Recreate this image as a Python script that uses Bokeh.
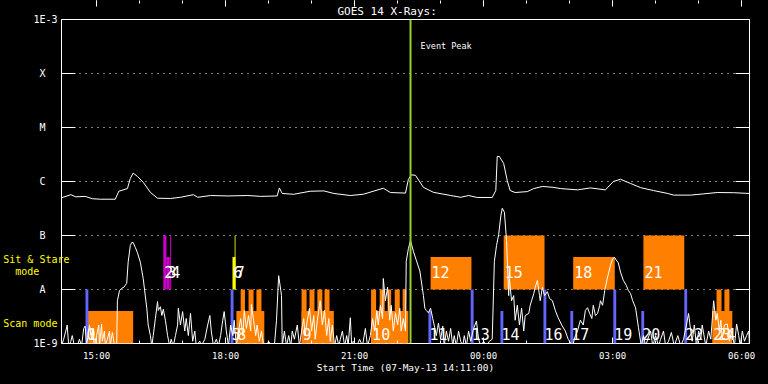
from bokeh.plotting import figure
from bokeh.models import (Range1d, LinearAxis, LogAxis, FixedTicker, Label, Span, Title,
                          ColumnDataSource, GlobalInlineStyleSheet)
from bokeh.embed import file_html
from bokeh.resources import INLINE
from bokeh.core.properties import value

# ---------------- data (time = minutes after 07-May-13 14:11:00) ----------------
TITLE = "GOES 14 X-Rays:"
XLABEL = "Start Time (07-May-13 14:11:00)"
tick_minutes = [49, 229, 409, 589, 769, 949]
tick_labels = ["15:00", "18:00", "21:00", "00:00", "03:00", "06:00"]
hour_minutes = [49, 109, 169, 229, 289, 349, 409, 469, 529, 589, 649, 709, 769, 829, 889, 949]
flux_levels = [1e-9, 1e-8, 1e-7, 1e-6, 1e-5, 1e-4, 1e-3]
level_labels = ["1E-9", "A", "B", "C", "M", "X", "1E-3"]
mode_levels = [3.6e-8, 2.15e-8, 2.35e-9]
mode_labels = ["Sit & Stare", "mode", "Scan mode"]

# GOES long channel (1-8 A), W/m^2
goes_long = [(0, 5.0e-7), (13, 5.7e-7), (20, 5.2e-7), (33, 5.3e-7), (43, 4.8e-7), (54, 4.7e-7),
             (75, 4.7e-7), (80, 6.6e-7), (92, 7.4e-7), (96, 1.14e-6), (100, 1.43e-6), (106, 1.24e-6),
             (114, 9.7e-7), (124, 6.3e-7), (134, 4.9e-7), (152, 4.85e-7), (166, 5.1e-7), (184, 5.7e-7),
             (190, 5.1e-7), (208, 5.5e-7), (232, 5.4e-7), (260, 5.5e-7), (278, 5.3e-7), (301, 5.4e-7),
             (304, 7.6e-7), (308, 6.0e-7), (324, 5.8e-7), (347, 6.6e-7), (366, 6.7e-7), (380, 6.0e-7),
             (403, 5.5e-7), (421, 5.8e-7), (449, 7.5e-7), (459, 6.25e-7), (480, 6.1e-7), (484, 1.09e-6),
             (488, 1.33e-6), (494, 1.3e-6), (505, 7.8e-7), (519, 6.3e-7), (543, 5.5e-7), (557, 5.1e-7),
             (568, 5.5e-7), (580, 5.06e-7), (601, 5.06e-7), (606, 6.8e-7), (608, 2.9e-6), (611, 2.9e-6),
             (617, 2.15e-6), (622, 1.04e-6), (626, 6.8e-7), (633, 6.25e-7), (650, 6.5e-7), (659, 7.4e-7),
             (671, 8.1e-7), (686, 7.8e-7), (696, 7.4e-7), (720, 7.0e-7), (738, 7.6e-7), (759, 7.0e-7),
             (770, 1.0e-6), (780, 1.1e-6), (794, 9.2e-7), (808, 7.7e-7), (826, 6.8e-7), (846, 6.0e-7),
             (854, 5.6e-7), (878, 5.6e-7), (896, 5.9e-7), (915, 6.25e-7), (938, 6.2e-7), (960, 6.0e-7)]

# GOES short channel (0.5-4 A), W/m^2
goes_short = [(0, 9e-10), (3, 1.2e-9), (6, 1.7e-9), (8, 2.2e-9), (10, 9e-10), (13, 1.1e-9), (15, 1.4e-9),
              (18, 9e-10), (22, 9e-10), (25, 1.2e-9), (28, 9e-10), (31, 1.9e-9), (33, 2.1e-9), (35, 9e-10),
              (38, 1.7e-9), (39, 2.2e-9), (42, 1.2e-9), (43, 1.9e-9), (46, 9e-10), (49, 1.4e-9), (52, 2.2e-9),
              (53, 9e-10), (56, 2.3e-9), (57, 1.1e-9), (60, 1.7e-9), (61, 9e-10), (64, 1.2e-9), (67, 1.7e-9),
              (68, 9e-10), (71, 1.6e-9), (74, 9e-10), (77, 9e-10), (78, 6.2e-9), (81, 9.6e-9), (84, 1.05e-8),
              (87, 1.1e-8), (89, 1.2e-8), (91, 1.3e-8), (93, 3.2e-8), (96, 6.5e-8), (98, 7.4e-8), (100, 7.4e-8),
              (103, 6e-8), (106, 4.8e-8), (110, 3.2e-8), (114, 1.6e-8), (119, 4.5e-9), (121, 2.2e-9),
              (124, 1.4e-9), (126, 9e-10), (128, 1.4e-9), (131, 2.9e-9), (134, 6e-9), (135, 4.1e-9),
              (138, 4.8e-9), (140, 3.3e-9), (142, 4.3e-9), (145, 2.7e-9), (148, 1.4e-9), (151, 9e-10),
              (153, 1.2e-9), (156, 9e-10), (159, 1.4e-9), (162, 2.2e-9), (163, 4.5e-9), (166, 2.2e-9),
              (169, 3.9e-9), (172, 1.7e-9), (174, 2.9e-9), (177, 1.4e-9), (180, 3.6e-9), (183, 1.1e-9),
              (186, 1.7e-9), (188, 9e-10), (193, 1.1e-9), (195, 9e-10), (200, 1.2e-9), (204, 2.2e-9),
              (207, 3.3e-9), (209, 1.7e-9), (212, 9e-10), (216, 1.2e-9), (219, 9e-10), (222, 1.4e-9),
              (225, 2.7e-9), (227, 3.9e-9), (230, 1.7e-9), (233, 9e-10), (236, 2.2e-9), (239, 1.4e-9),
              (241, 2.7e-9), (244, 9e-10), (247, 1.7e-9), (250, 2.9e-9), (253, 1.4e-9), (255, 4.1e-9),
              (258, 1.9e-9), (261, 3.3e-9), (264, 1.7e-9), (265, 5.3e-9), (268, 2.7e-9), (271, 1.4e-9),
              (273, 2.2e-9), (276, 1.1e-9), (279, 1.7e-9), (282, 9e-10), (285, 9e-10), (289, 1.1e-9),
              (293, 9e-10), (297, 9e-10), (300, 2.7e-9), (303, 1.8e-8), (306, 9.6e-9), (307, 7.7e-9),
              (308, 9e-10), (311, 1.7e-9), (314, 9e-10), (317, 1.4e-9), (320, 9e-10), (322, 1.7e-9),
              (325, 1.2e-9), (329, 2.2e-9), (332, 9e-10), (335, 1.7e-9), (338, 2.9e-9), (340, 1.4e-9),
              (343, 2.7e-9), (346, 4.5e-9), (349, 1.7e-9), (352, 3.3e-9), (354, 1.2e-9), (357, 2.7e-9),
              (360, 5.1e-9), (361, 6.2e-9), (364, 2.2e-9), (367, 4.1e-9), (370, 1.4e-9), (373, 2.9e-9),
              (375, 1.1e-9), (378, 2.2e-9), (381, 9e-10), (384, 1.4e-9), (387, 9e-10), (389, 1.2e-9),
              (392, 1.7e-9), (395, 9e-10), (398, 1.4e-9), (400, 9e-10), (403, 3e-9), (405, 9e-10),
              (407, 1.1e-9), (412, 9e-10), (416, 1.2e-9), (420, 9e-10), (424, 1.9e-9), (427, 9e-10),
              (431, 1.4e-9), (434, 2.9e-9), (437, 1.7e-9), (440, 4.1e-9), (442, 2.2e-9), (445, 5.1e-9),
              (448, 2.9e-9), (449, 1.6e-8), (452, 6.2e-9), (455, 1.1e-8), (458, 2.7e-9), (460, 5.1e-9),
              (463, 1.7e-9), (466, 3.7e-9), (469, 2.2e-9), (472, 4.5e-9), (474, 1.7e-9), (477, 2.9e-9),
              (480, 1.7e-9), (481, 3.3e-8), (484, 5.7e-8), (487, 8.1e-8), (491, 5.1e-8), (495, 3.5e-8),
              (500, 2.2e-8), (505, 7.7e-9), (507, 4.5e-9), (509, 4.1e-9), (512, 3.7e-9), (515, 4.5e-9),
              (518, 2.9e-9), (520, 2.2e-9), (523, 1.4e-9), (526, 2.4e-9), (529, 1.2e-9), (532, 2.1e-9),
              (534, 9e-10), (537, 1.7e-9), (540, 1.1e-9), (543, 1.9e-9), (546, 9e-10), (548, 1.4e-9),
              (551, 9e-10), (554, 1.7e-9), (557, 1.1e-9), (560, 9e-10), (562, 1.4e-9), (565, 9e-10),
              (568, 1.7e-9), (571, 1.1e-9), (575, 1.9e-9), (579, 2.6e-9), (582, 1.2e-9), (585, 9e-10),
              (589, 1.1e-9), (593, 9e-10), (597, 1.1e-9), (601, 1.2e-9), (604, 3.3e-8), (607, 6.5e-8),
              (610, 1.04e-7), (613, 2.3e-7), (615, 3.2e-7), (618, 2.7e-7), (621, 8.1e-8), (622, 3.5e-8),
              (624, 7.7e-9), (625, 1.6e-8), (628, 6.2e-9), (631, 7.7e-9), (633, 2.7e-9), (636, 5.1e-9),
              (639, 2.2e-9), (642, 4.5e-9), (645, 1.7e-9), (647, 3.3e-9), (652, 3.6e-9), (654, 5.1e-9),
              (659, 8.4e-9), (661, 1.1e-8), (664, 1.47e-8), (667, 7.7e-9), (668, 6.2e-9), (671, 1.1e-8),
              (674, 7.7e-9), (678, 9.1e-9), (681, 6.8e-9), (685, 6.2e-9), (689, 4.1e-9), (693, 3e-9),
              (698, 2.2e-9), (703, 1.7e-9), (707, 1.2e-9), (713, 9e-10), (717, 1.4e-9), (720, 1.7e-9),
              (724, 2.7e-9), (728, 2.2e-9), (731, 4.1e-9), (734, 4.6e-9), (737, 3.6e-9), (740, 2.9e-9),
              (742, 5.1e-9), (745, 3.3e-9), (748, 3.6e-9), (751, 5.1e-9), (752, 6.2e-9), (755, 5.1e-9),
              (758, 9.6e-9), (762, 1.7e-8), (766, 2.8e-8), (769, 3.7e-8), (772, 3.9e-8), (774, 3.5e-8),
              (777, 3.1e-8), (780, 2.1e-8), (784, 1.47e-8), (788, 1.2e-8), (791, 9.6e-9), (794, 8.4e-9),
              (797, 6.2e-9), (801, 4.6e-9), (805, 2e-9), (809, 9e-10), (812, 1.4e-9), (815, 9e-10),
              (818, 1.2e-9), (822, 1.7e-9), (825, 9e-10), (829, 1.4e-9), (833, 9e-10), (836, 1.2e-9),
              (840, 1.7e-9), (843, 9e-10), (847, 1.1e-9), (851, 1.6e-9), (855, 9e-10), (860, 1.4e-9),
              (864, 9e-10), (868, 1.2e-9), (872, 2.2e-9), (875, 3.6e-9), (878, 1.7e-9), (880, 1.1e-9),
              (883, 2.2e-9), (886, 9e-10), (889, 1.7e-9), (892, 1.2e-9), (894, 2.2e-9), (899, 9e-10),
              (903, 1.7e-9), (906, 1.2e-9), (910, 6.2e-9), (913, 2.7e-9), (915, 3.6e-9), (918, 1.7e-9),
              (920, 2.7e-9), (922, 1.2e-9), (925, 2.2e-9), (929, 2.3e-9), (932, 1.1e-9), (935, 1.7e-9),
              (939, 9e-10), (942, 2.3e-9), (945, 1.4e-9), (947, 9e-10), (950, 1.7e-9), (953, 1.1e-9),
              (956, 1.4e-9), (959, 1.7e-9), (960, 9e-10)]

# observation blocks (start, end minute, top flux)
other_start = [33.5, 236, 512, 571, 612.5, 672.5, 710, 770, 809, 869]
other_end = [37.5, 240, 516, 575, 616.5, 676.5, 714, 774, 813, 873]
other_top = [1e-8, 1e-8, 4e-9, 1e-8, 4e-9, 1e-8, 4e-9, 1e-8, 4e-9, 1e-8]

sitstare_start = [515, 617, 714, 812]
sitstare_end = [572, 674, 772, 869]
sitstare_top = [4e-8, 1e-7, 4e-8, 1e-7]

scan_start = [36, 244, 335, 432, 908]
scan_end = [100, 283, 380, 484, 936]
scan_top = [4e-9, 4e-9, 4e-9, 4e-9, 4e-9]

raster_start = [250, 261, 272, 335, 346, 357, 367, 432, 444, 455, 465, 476, 914, 925]
raster_end = [256, 268, 279, 342, 353, 364, 374, 439, 451, 460, 472, 481, 921, 932]

magenta_start = [142, 146.5, 151.6]
magenta_end = [146.5, 151, 153]
magenta_top = [1e-7, 4e-8, 1e-7]

yellow_start = [238.6, 241.6]
yellow_end = [242.8, 242.8]
yellow_top = [4e-8, 1e-7]

event_peak = 487

event_num = [str(i) for i in range(25)]
event_time = [33.5, 36, 142, 146.5, 151.6, 236, 238.6, 241.6, 244, 335, 432, 512, 515, 571, 612.5,
              617, 672.5, 710, 714, 770, 809, 812, 869, 908, 914]
event_mode = ["scan", "scan", "ss", "ss", "ss", "scan", "ss", "ss", "scan", "scan", "scan", "scan", "ss",
              "scan", "scan", "ss", "scan", "scan", "ss", "scan", "scan", "ss", "scan", "scan", "scan"]

# ---------------- figure ----------------
MONO = "DejaVu Sans Mono"
NB = "\u00a0"
p = figure(width=768, height=384, output_backend="svg", toolbar_location=None,
           x_range=Range1d(0, 960), y_range=Range1d(1e-9, 1e-3), y_axis_type="log",
           min_border_left=61, min_border_right=19, min_border_top=19, min_border_bottom=41,
           background_fill_color="black", border_fill_color="black",
           outline_line_color="white", outline_line_width=1)
p.stylesheets = [GlobalInlineStyleSheet(css="html,body{margin:0;padding:0;background:#000;overflow:hidden;}")]

p.add_layout(Title(text=TITLE, align="left", offset=276, text_color="white", text_font=MONO,
                   text_font_size="11px", text_font_style="normal", standoff=4), "above")

# left axis
yax = p.yaxis[0]
yax.ticker = FixedTicker(ticks=flux_levels, minor_ticks=[])
yax.major_label_overrides = {f: (t if len(t) > 1 else t + NB + NB)
                             for f, t in zip(flux_levels, level_labels)}
yax.major_tick_in = 14
yax.major_tick_out = 0
yax.major_tick_line_color = "white"
yax.minor_tick_line_color = None
yax.axis_line_color = None
yax.major_label_text_color = "white"
yax.major_label_text_font = MONO
yax.major_label_text_font_size = "10px"
yax.major_label_standoff = 4

# outer left axis carrying the yellow mode captions
mode_pad = [0, 5, 2]
mode_ax = LogAxis(ticker=FixedTicker(ticks=mode_levels, minor_ticks=[]),
                  major_label_overrides={f: t + NB * n for f, t, n in zip(mode_levels, mode_labels, mode_pad)},
                  major_tick_line_color=None, minor_tick_line_color=None, axis_line_color=None,
                  major_tick_in=0, major_tick_out=0,
                  major_label_text_color="#ffff00", major_label_text_font=MONO,
                  major_label_text_font_size="10px", major_label_standoff=-39)
p.add_layout(mode_ax, "left")

# right axis (ticks only)
rax = LogAxis(ticker=FixedTicker(ticks=flux_levels, minor_ticks=[]), major_tick_in=14, major_tick_out=0,
              major_tick_line_color="white", minor_tick_line_color=None, axis_line_color=None,
              major_label_text_font_size="1px", major_label_text_color=None, major_label_standoff=0)
p.add_layout(rax, "right")

# bottom axis
xax = p.xaxis[0]
xax.ticker = FixedTicker(ticks=tick_minutes, minor_ticks=hour_minutes)
xax.major_label_overrides = dict(zip(tick_minutes, tick_labels))
xax.major_tick_in = 6
xax.major_tick_out = 0
xax.minor_tick_in = 3
xax.minor_tick_out = 0
xax.major_tick_line_color = "white"
xax.minor_tick_line_color = "white"
xax.axis_line_color = None
xax.major_label_text_color = "white"
xax.major_label_text_font = MONO
xax.major_label_text_font_size = "9px"
xax.major_label_standoff = 7
xax.axis_label = XLABEL
xax.axis_label_text_color = "white"
xax.axis_label_text_font = MONO
xax.axis_label_text_font_style = "normal"
xax.axis_label_text_font_size = "9.5px"
xax.axis_label_standoff = -2

# top axis (ticks only)
tax = LinearAxis(ticker=FixedTicker(ticks=tick_minutes, minor_ticks=hour_minutes), major_tick_in=6,
                 major_tick_out=0, minor_tick_in=3, minor_tick_out=0, major_tick_line_color="white",
                 minor_tick_line_color="white", axis_line_color=None,
                 major_label_text_font_size="1px", major_label_text_color=None, major_label_standoff=-3)
p.add_layout(tax, "above")

p.xgrid.visible = False
p.ygrid.ticker = FixedTicker(ticks=flux_levels[1:-1])
p.ygrid.grid_line_color = "white"
p.ygrid.grid_line_dash = "1 5"
p.ygrid.grid_line_width = 1

BLUE = "#6464ff"
ORANGE = "#ff8000"

p.quad(left=scan_start, right=scan_end, bottom=1e-9, top=scan_top, fill_color=ORANGE, line_color=None)
p.quad(left=raster_start, right=raster_end, bottom=1e-9, top=1e-8, fill_color=ORANGE, line_color=None)
p.quad(left=sitstare_start, right=sitstare_end, bottom=1e-8, top=sitstare_top, fill_color=ORANGE, line_color=None)
p.quad(left=other_start, right=other_end, bottom=1e-9, top=other_top, fill_color=BLUE, line_color=None)
p.quad(left=magenta_start, right=magenta_end, bottom=1e-8, top=magenta_top, fill_color="#c800c8", line_color=None)
p.quad(left=yellow_start, right=yellow_end, bottom=1e-8, top=yellow_top, fill_color="#ffff00", line_color=None)

lt, lf = zip(*goes_long)
st, sf = zip(*goes_short)
p.line(list(lt), list(lf), line_color="white", line_width=1)
p.line(list(st), list(sf), line_color="white", line_width=1)

p.add_layout(Span(location=event_peak, dimension="height", line_color="#9acd32", line_width=2))

ev_y = [2.1e-8 if m == "ss" else 1.5e-9 for m in event_mode]
src = ColumnDataSource(dict(x=event_time, y=ev_y, t=event_num))
p.text(x="x", y="y", text="t", source=src, text_color="white", text_font=value(MONO),
       text_font_size="15px", text_baseline="middle", text_align="left", x_offset=1)

p.add_layout(Label(x=501, y=3.3e-4, text="Event Peak", text_color="white", text_font=MONO,
                   text_font_size="8.5px", text_baseline="middle", text_align="left"))

open("out.html", "w").write(file_html(p, INLINE))
